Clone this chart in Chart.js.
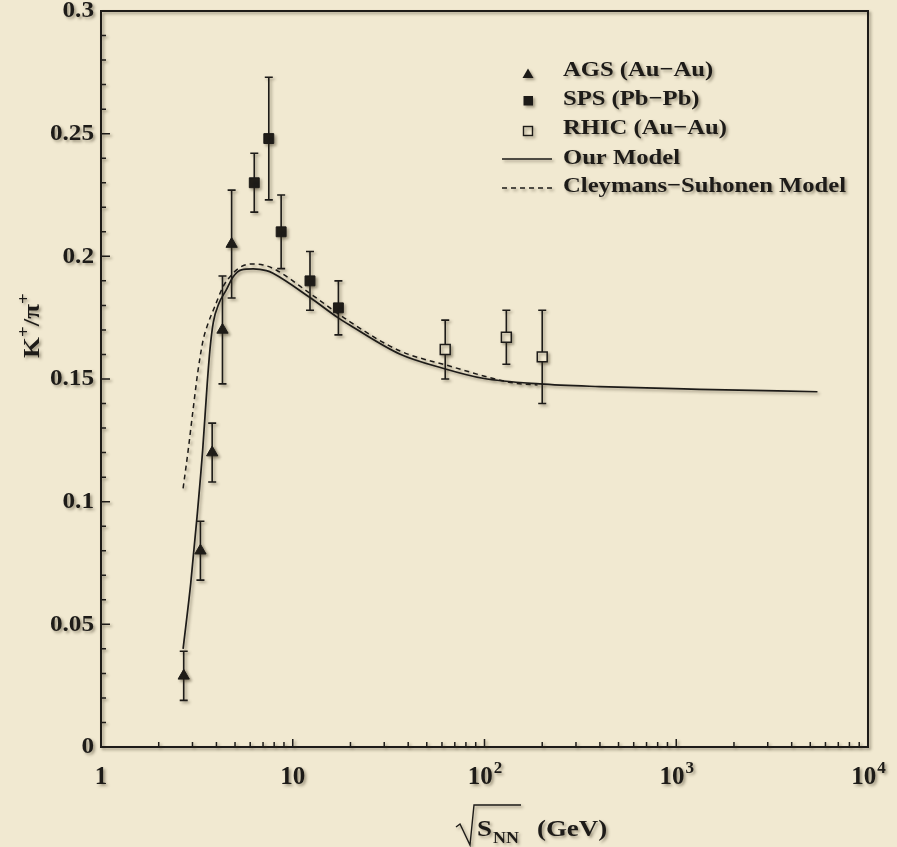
<!DOCTYPE html>
<html>
<head>
<meta charset="utf-8">
<script src="https://cdn.jsdelivr.net/npm/chart.js@4/dist/chart.umd.min.js"></script>
<style>
  html, body { margin: 0; padding: 0; background: #f1e9d1; }
  #wrap { width: 897px; height: 847px; }
</style>
</head>
<body>
<div id="wrap"><canvas id="ratio_chart" width="897" height="847"></canvas></div>
<script>
// DATA
const ags_x = [2.7, 3.3, 3.8, 4.3, 4.8];
const ags_y = [0.029, 0.080, 0.120, 0.170, 0.205];
const ags_err = [0.010, 0.012, 0.012, 0.022, 0.022];

const sps_x = [6.3, 7.5, 8.7, 12.3, 17.3];
const sps_y = [0.230, 0.248, 0.210, 0.190, 0.179];
const sps_err = [0.012, 0.025, 0.015, 0.012, 0.011];

const rhic_x = [62.4, 130, 200];
const rhic_y = [0.162, 0.167, 0.159];
const rhic_err = [0.012, 0.011, 0.019];

const model_x = [2.68, 2.94, 3.17, 3.39, 3.58, 3.70, 3.85, 4.13, 4.48, 4.89, 5.40, 6.21, 7.29, 7.89, 12.3, 17.2, 19.8, 36.1, 60.6, 98, 194, 397, 1318, 5450];
const model_y = [0.040, 0.067, 0.094, 0.121, 0.148, 0.162, 0.173, 0.181, 0.186, 0.1917, 0.1945, 0.1949, 0.1942, 0.1931, 0.1832, 0.175, 0.172, 0.1602, 0.1544, 0.1503, 0.148, 0.1469, 0.1458, 0.1448];

const cs_x = [2.68, 2.85, 3.02, 3.21, 3.41, 3.62, 3.92, 4.33, 4.79, 5.30, 6.09, 7.00, 8.07, 12.3, 19.8, 36.1, 63, 146, 189];
const cs_y = [0.1054, 0.1211, 0.1374, 0.1537, 0.1659, 0.1727, 0.1795, 0.1876, 0.1924, 0.1955, 0.1969, 0.1965, 0.1947, 0.1849, 0.1734, 0.1615, 0.1557, 0.1482, 0.1476];

// TICKS AND LABELS
const y_ticks = [0, 0.05, 0.1, 0.15, 0.2, 0.25, 0.3];
const y_labels = ["0", "0.05", "0.1", "0.15", "0.2", "0.25", "0.3"];
const x_ticks = [1, 10, 100, 1000, 10000];
const x_base = ["1", "10", "10", "10", "10"];
const x_exp = ["", "", "2", "3", "4"];
const legend_labels = ["AGS (Au\u2212Au)", "SPS (Pb\u2212Pb)", "RHIC (Au\u2212Au)", "Our Model", "Cleymans\u2212Suhonen Model"];

const paper = "#f1e9d1";
const ink = "#1d1b18";
const serif = '"Liberation Serif", "Times New Roman", serif';

function toPoints(xs, ys) {
  return xs.map((v, i) => ({ x: v, y: ys[i] }));
}

function setShadow(ctx) {
  ctx.shadowColor = "rgba(60,50,30,0.45)";
  ctx.shadowBlur = 3;
  ctx.shadowOffsetX = 2;
  ctx.shadowOffsetY = 2;
}

// the original type is a bit wider than Liberation Serif
function wideText(ctx, str, x, y, sx) {
  ctx.save();
  ctx.translate(x, y);
  ctx.scale(sx, 1);
  ctx.fillText(str, 0, 0);
  ctx.restore();
  return ctx.measureText(str).width * sx;
}

// error bars + shadows on the data
const errorBars = {
  id: "errorBars",
  beforeDatasetsDraw(chart) {
    const ctx = chart.ctx;
    const xs = chart.scales.x, ys = chart.scales.y;
    ctx.save();
    setShadow(ctx);
    ctx.strokeStyle = ink;
    ctx.lineWidth = 1.6;
    [[ags_x, ags_y, ags_err], [sps_x, sps_y, sps_err], [rhic_x, rhic_y, rhic_err]].forEach(set => {
      set[0].forEach((xv, i) => {
        const px = xs.getPixelForValue(xv);
        const top = ys.getPixelForValue(set[1][i] + set[2][i]);
        const bot = ys.getPixelForValue(set[1][i] - set[2][i]);
        ctx.beginPath();
        ctx.moveTo(px, top); ctx.lineTo(px, bot);
        ctx.moveTo(px - 4, top); ctx.lineTo(px + 4, top);
        ctx.moveTo(px - 4, bot); ctx.lineTo(px + 4, bot);
        ctx.stroke();
      });
    });
  },
  afterDatasetsDraw(chart) {
    chart.ctx.restore();
  }
};

// frame, inner ticks, labels, titles, legend
const decorations = {
  id: "decorations",
  afterDraw(chart) {
    const ctx = chart.ctx;
    const a = chart.chartArea;
    const xs = chart.scales.x, ys = chart.scales.y;
    ctx.save();
    setShadow(ctx);
    ctx.strokeStyle = ink;
    ctx.fillStyle = ink;

    // frame
    ctx.lineWidth = 2;
    ctx.strokeRect(a.left, a.top, a.right - a.left, a.bottom - a.top);

    // y ticks (inside)
    ctx.lineWidth = 1.5;
    ctx.beginPath();
    for (let i = 1; i < 30; i++) {
      const py = ys.getPixelForValue(i / 100);
      const len = i % 5 === 0 ? 9 : 5;
      ctx.moveTo(a.left, py); ctx.lineTo(a.left + len, py);
    }
    // x ticks (inside)
    [1, 10, 100, 1000].forEach(d => {
      for (let m = 1; m <= 9; m++) {
        if (d === 1 && m === 1) continue;
        const px = xs.getPixelForValue(d * m);
        const len = m === 1 ? 8 : 5;
        ctx.moveTo(px, a.bottom); ctx.lineTo(px, a.bottom - len);
      }
    });
    ctx.stroke();

    // y labels
    ctx.font = "bold 24px " + serif;
    ctx.textAlign = "right";
    ctx.textBaseline = "middle";
    y_ticks.forEach((v, i) => {
      wideText(ctx, y_labels[i], 94, ys.getPixelForValue(v), 1.05);
    });

    // x labels with superscripts
    ctx.textAlign = "left";
    ctx.textBaseline = "alphabetic";
    x_ticks.forEach((v, i) => {
      ctx.font = "bold 25px " + serif;
      const wb = ctx.measureText(x_base[i]).width;
      ctx.font = "bold 17px " + serif;
      const we = x_exp[i] ? ctx.measureText(x_exp[i]).width : 0;
      const px = xs.getPixelForValue(v) - (wb + we) / 2;
      ctx.font = "bold 25px " + serif;
      ctx.fillText(x_base[i], px, 784);
      if (x_exp[i]) {
        ctx.font = "bold 17px " + serif;
        ctx.fillText(x_exp[i], px + wb + 1, 773);
      }
    });

    // x title: sqrt(S_NN) (GeV)
    ctx.lineWidth = 1.4;
    ctx.beginPath();
    ctx.moveTo(456, 827); ctx.lineTo(460, 824); ctx.lineTo(470, 845);
    ctx.lineTo(474, 805); ctx.lineTo(521, 805);
    ctx.stroke();
    ctx.font = "bold 24px " + serif;
    wideText(ctx, "S", 477, 836, 1.12);
    ctx.font = "bold 16px " + serif;
    wideText(ctx, "NN", 493, 843, 1.12);
    ctx.font = "bold 24px " + serif;
    wideText(ctx, "(GeV)", 537, 836, 1.12);

    // y title: K+/pi+
    ctx.save();
    ctx.translate(39, 358);
    ctx.rotate(-Math.PI / 2);
    let cx = 0;
    ctx.font = "bold 24px " + serif;
    cx += wideText(ctx, "K", cx, 0, 1.12);
    ctx.font = "bold 17px " + serif;
    cx += wideText(ctx, "+", cx, -10, 1.12);
    ctx.font = "bold 24px " + serif;
    cx += wideText(ctx, "/", cx, 0, 1.12);
    cx += wideText(ctx, "\u03c0", cx, 0, 1.12);
    ctx.font = "bold 17px " + serif;
    wideText(ctx, "+", cx, -10, 1.12);
    ctx.restore();

    // legend
    const baselines = [75.5, 104.5, 133.5, 163.5, 192];
    ctx.font = "bold 22px " + serif;
    legend_labels.forEach((t, i) => wideText(ctx, t, 563, baselines[i], 1.12));
    // triangle
    ctx.beginPath();
    ctx.moveTo(528, 68.5); ctx.lineTo(533.5, 78); ctx.lineTo(522.5, 78); ctx.closePath();
    ctx.fill();
    // filled square
    ctx.fillRect(523.5, 96, 9.5, 9.5);
    // open square
    ctx.lineWidth = 1.4;
    ctx.strokeRect(523.5, 126.5, 9, 9);
    // lines
    ctx.lineWidth = 1.6;
    ctx.beginPath(); ctx.moveTo(502, 159); ctx.lineTo(552, 159); ctx.stroke();
    ctx.setLineDash([5, 4]);
    ctx.beginPath(); ctx.moveTo(502, 188); ctx.lineTo(552, 188); ctx.stroke();
    ctx.setLineDash([]);

    ctx.restore();
  }
};

const ctx = document.getElementById("ratio_chart").getContext("2d");

const my_chart = new Chart(ctx, {
  type: "scatter",
  data: {
    datasets: [
      {
        label: legend_labels[3],
        data: toPoints(model_x, model_y),
        showLine: true,
        pointRadius: 0,
        borderColor: ink,
        borderWidth: 1.7,
        cubicInterpolationMode: "monotone",
      },
      {
        label: legend_labels[4],
        data: toPoints(cs_x, cs_y),
        showLine: true,
        pointRadius: 0,
        borderColor: ink,
        borderWidth: 1.5,
        borderDash: [5, 4],
        cubicInterpolationMode: "monotone",
      },
      {
        label: legend_labels[0],
        data: toPoints(ags_x, ags_y),
        pointStyle: "triangle",
        pointRadius: 6.5,
        backgroundColor: ink,
        borderColor: ink,
        borderWidth: 1,
      },
      {
        label: legend_labels[1],
        data: toPoints(sps_x, sps_y),
        pointStyle: "rect",
        pointRadius: 7,
        backgroundColor: ink,
        borderColor: ink,
        borderWidth: 1,
      },
      {
        label: legend_labels[2],
        data: toPoints(rhic_x, rhic_y),
        pointStyle: "rect",
        pointRadius: 7,
        backgroundColor: paper,
        borderColor: ink,
        borderWidth: 1.5,
      },
    ],
  },
  options: {
    responsive: false,
    animation: false,
    layout: { padding: { top: 11, right: 29, left: 0, bottom: 0 } },
    plugins: {
      legend: { display: false },
      tooltip: { enabled: false },
    },
    scales: {
      x: {
        type: "logarithmic",
        min: 1,
        max: 10000,
        grid: { display: false },
        border: { display: false },
        ticks: { display: false },
        afterFit(scale) { scale.height = 100; },
      },
      y: {
        min: 0,
        max: 0.3,
        grid: { display: false },
        border: { display: false },
        ticks: { display: false },
        afterFit(scale) { scale.width = 101; },
      },
    },
  },
  plugins: [errorBars, decorations],
});
</script>
</body>
</html>
